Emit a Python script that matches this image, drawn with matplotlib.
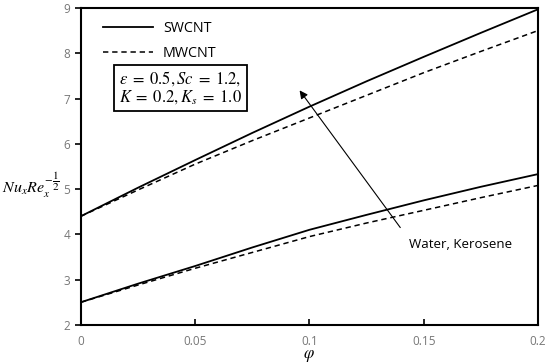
import numpy as np
import matplotlib.pyplot as plt

plt.rcParams['font.family'] = ['Open Sans', 'DejaVu Sans']
plt.rcParams['mathtext.fontset'] = 'stix'

phi = [0, 0.025, 0.05, 0.075, 0.1, 0.125, 0.15, 0.175, 0.2]
# upper pair / lower pair (water, kerosene)
sw_upper = [4.40, 5.03, 5.64, 6.24, 6.82, 7.38, 7.92, 8.45, 8.97]
mw_upper = [4.40, 4.98, 5.55, 6.07, 6.57, 7.07, 7.57, 8.04, 8.50]
sw_lower = [2.50, 2.91, 3.30, 3.71, 4.10, 4.43, 4.75, 5.05, 5.33]
mw_lower = [2.50, 2.88, 3.25, 3.60, 3.95, 4.25, 4.53, 4.81, 5.08]
xticks = [0, 0.05, 0.1, 0.15, 0.2]
xticklabels = ['0', '0.05', '0.1', '0.15', '0.2']
yticks = [2, 3, 4, 5, 6, 7, 8, 9]

fig = plt.figure(figsize=(5.5, 3.63), dpi=100)
ax = fig.add_axes([0.147, 0.105, 0.831, 0.873])

ax.plot(phi, sw_upper, 'k-', lw=1.3, label='SWCNT')
ax.plot(phi, mw_upper, 'k--', lw=1.1, dashes=(3.5, 2.5), label='MWCNT')
ax.plot(phi, sw_lower, 'k-', lw=1.3)
ax.plot(phi, mw_lower, 'k--', lw=1.1, dashes=(3.5, 2.5))

ax.set_xlim(0, 0.2)
ax.set_ylim(2, 9)
ax.set_xticks(xticks)
ax.set_xticklabels(xticklabels)
ax.set_yticks(yticks)
ax.tick_params(axis='x', direction='in', length=4, width=1.2, labelcolor='#777777', labelsize=8.5, pad=7)
ax.tick_params(axis='y', direction='out', length=4, width=1.2, labelcolor='#777777', labelsize=8.5)
for s in ax.spines.values():
    s.set_linewidth(1.5)

ax.set_xlabel(r'$\varphi$', fontsize=12, labelpad=0)
fig.text(0.004, 0.49, r'$Nu_xRe_x^{-\dfrac{1}{2}}$', fontsize=11.5, ha='left', va='center')

leg = ax.legend(loc='upper left', bbox_to_anchor=(0.02, 1.0), frameon=False,
                fontsize=10.3, handlelength=3.5, handletextpad=0.7, labelspacing=0.7)

ax.text(0.218, 0.748, '$\\varepsilon\\;=\\;0.5, Sc\\;=\\;1.2,$\n$K\\;=\\;0.2, K_s\\;=\\;1.0$',
        transform=ax.transAxes, ha='center', va='center', fontsize=12, linespacing=1.0,
        bbox=dict(boxstyle='square,pad=0.3', fc='white', ec='black', lw=1.3))

ax.annotate('', xy=(0.095, 7.23), xytext=(0.1405, 4.10),
            arrowprops=dict(arrowstyle='-|>', color='black', lw=0.8, mutation_scale=12))
ax.text(0.166, 3.77, 'Water, Kerosene', ha='center', va='center', fontsize=9.5)

fig.savefig('out.png', dpi=100)
